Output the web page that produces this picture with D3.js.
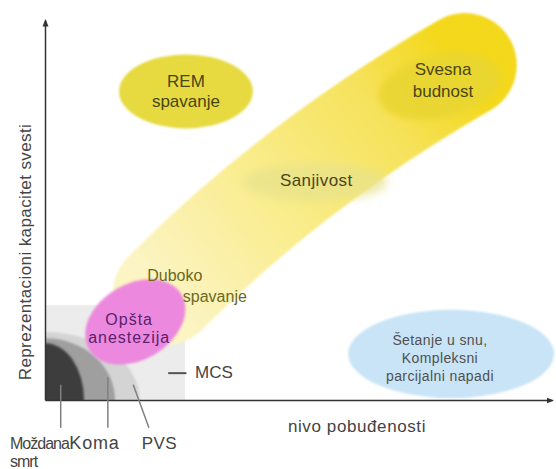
<!DOCTYPE html>
<head>
  <meta charset="utf-8">
  <script src="https://d3js.org/d3.v7.min.js"></script>
  <style>
    body { margin:0; background:#fff; }
    text { font-family: "Liberation Sans", Arial, sans-serif; }
  </style>
</head>
<body>
<script>
  // arousal (x) vs. awareness (y), both in arbitrary units
  // states drawn as ellipses: centre, radii, tilt (deg, counter-clockwise)
  var stateNames = ["REM spavanje", "Svesna budnost", "Sanjivost", "Opšta anestezija", "Šetanje u snu"];
  var stateX     = [27.8, 77.8, 53.3, 17.8, 80.1];
  var stateY     = [60.9, 61.9, 43.0, 15.4, 9.1];
  var stateRx    = [13.2, 12.2, 14.2, 10.6, 20.3];
  var stateRy    = [7.3, 6.2, 3.7, 7.5, 8.7];
  var stateTilt  = [0, 12, 0, 31, 0];

  // states near the origin (quarter shapes from the axes corner)
  var floorNames = ["MCS", "PVS", "Koma", "Moždana smrt"];
  var floorRx    = [27.6, 18.7, 13.8, 7.7];
  var floorRy    = [18.7, 13.4, 12.2, 11.2];

  // the sleep -> wake continuum: a curved band (tail, bend, head) and its width
  var wakeX = [23.7, 49.2, 82.8];
  var wakeY = [21.1, 46.7, 66.1];
  var wakeWidth = 20.5;

  // labels: lines, block centre (x, y)
  var labelLines = [["REM", "spavanje"], ["Svesna", "budnost"], ["Sanjivost"], ["Opšta", "anestezija"],
                    ["Duboko"], ["spavanje"], ["Šetanje u snu,", "Kompleksni", "parcijalni napadi"], ["MCS"]];
  var labelX = [27.8, 78.5, 53.5, 16.6, 25.6, 33.5, 77.9, 29.6];
  var labelY = [61.0, 63.2, 43.4, 14.2, 24.5, 20.5, 8.3, 5.5];

  // pointers below the x axis
  var pointerNames = ["Moždana smrt", "Koma", "PVS", "MCS"];
  var pointerFrom = [[3.1, 3.0], [12.4, 4.5], [17.4, 3.0], [24.3, 5.3]];
  var pointerTo   = [[3.1, -5.5], [12.4, -5.5], [20.5, -5.5], [27.9, 5.3]];
  var bottomLines = [["Moždana", "smrt"], ["Koma"], ["PVS"]];
  var bottomX = [-6.9, 4.8, 19.1];
  var bottomY = -9.7;

  var xLabel = "nivo pobuđenosti";
  var yLabel = "Reprezentacioni kapacitet svesti";

  var width = 556, height = 469;
  var x = d3.scaleLinear().domain([0, 100]).range([45, 552]);
  var y = d3.scaleLinear().domain([0, 75]).range([400, 20]);
  var kx = function(r){ return x(r) - x(0); };
  var ky = function(r){ return y(0) - y(r); };

  var svg = d3.select("body").append("svg")
    .attr("width", width)
    .attr("height", height);

  var defs = svg.append("defs");
  defs.append("clipPath").attr("id", "plot").append("rect")
    .attr("x", x(0)).attr("y", y(75))
    .attr("width", x(100) - x(0)).attr("height", y(0) - y(75));

  // blur filters, region = whole picture so round caps are not clipped
  function blurFilter(id, sd) {
    defs.append("filter").attr("id", id)
      .attr("filterUnits", "userSpaceOnUse")
      .attr("x", 0).attr("y", 0).attr("width", width).attr("height", height)
      .append("feGaussianBlur").attr("stdDeviation", sd);
  }
  blurFilter("soft", 1.2);
  blurFilter("blur3", 3);
  blurFilter("haze", 5);

  var grad = defs.append("linearGradient").attr("id", "wake")
    .attr("gradientUnits", "userSpaceOnUse")
    .attr("x1", x(wakeX[0])).attr("y1", y(wakeY[0]))
    .attr("x2", x(wakeX[2])).attr("y2", y(wakeY[2]));
  var gradStops = [[0, "#fcf4c2"], [0.4, "#f9ec8a"], [0.75, "#f6e25a"], [1, "#f3d81a"]];
  gradStops.forEach(function(s){
    grad.append("stop").attr("offset", s[0]).attr("stop-color", s[1]);
  });

  defs.append("marker").attr("id", "arrow")
    .attr("viewBox", "0 0 10 10").attr("refX", 8).attr("refY", 5)
    .attr("markerWidth", 5).attr("markerHeight", 5).attr("orient", "auto")
    .append("path").attr("d", "M0,1L10,5L0,9Z").attr("fill", "#333");

  // ---- floor states (grey) ----
  var floorColors = ["#ececec", "#d4d4d4", "#9f9f9f", "#3e3e3e"];
  var floor = svg.append("g").attr("clip-path", "url(#plot)");
  floor.append("rect")
    .attr("x", x(-10)).attr("y", y(floorRy[0]))
    .attr("width", x(floorRx[0]) - x(-10)).attr("height", y(-10) - y(floorRy[0]))
    .attr("rx", 22)
    .attr("fill", floorColors[0]);
  floor.selectAll("ellipse").data([1, 2, 3]).enter().append("ellipse")
    .attr("cx", x(0)).attr("cy", y(0))
    .attr("rx", function(i){ return kx(floorRx[i]); })
    .attr("ry", function(i){ return ky(floorRy[i]); })
    .attr("fill", function(i){ return floorColors[i]; })
    .attr("filter", "url(#soft)");

  // ---- wake continuum ----
  var band = d3.path();
  band.moveTo(x(wakeX[0]), y(wakeY[0]));
  band.quadraticCurveTo(x(wakeX[1]), y(wakeY[1]), x(wakeX[2]), y(wakeY[2]));
  svg.append("path")
    .attr("d", band.toString())
    .attr("fill", "none")
    .attr("stroke", "url(#wake)")
    .attr("stroke-width", kx(wakeWidth))
    .attr("stroke-linecap", "round")
    .attr("filter", "url(#soft)");

  // ---- states ----
  var stateColors = ["#e6da40", "#e9d633", "#e8e28c", "#ec88dd", "#c8e4f6"];
  var stateFilter = ["url(#soft)", "url(#blur3)", "url(#haze)", "url(#soft)", "url(#soft)"];
  var stateOpacity = [1, 0.9, 0.75, 1, 1];
  svg.append("g").selectAll("ellipse").data(stateNames).enter().append("ellipse")
    .attr("cx", function(d, i){ return x(stateX[i]); })
    .attr("cy", function(d, i){ return y(stateY[i]); })
    .attr("rx", function(d, i){ return kx(stateRx[i]); })
    .attr("ry", function(d, i){ return ky(stateRy[i]); })
    .attr("transform", function(d, i){ return "rotate(" + (-stateTilt[i]) + "," + x(stateX[i]) + "," + y(stateY[i]) + ")"; })
    .attr("fill", function(d, i){ return stateColors[i]; })
    .attr("opacity", function(d, i){ return stateOpacity[i]; })
    .attr("filter", function(d, i){ return stateFilter[i]; });

  // ---- axes ----
  var xAxis = svg.append("g").attr("transform", "translate(0," + y(0) + ")")
    .call(d3.axisBottom(x).ticks(0).tickSizeOuter(0));
  var yAxis = svg.append("g").attr("transform", "translate(" + x(0) + ",0)")
    .call(d3.axisLeft(y).ticks(0).tickSizeOuter(0));
  [xAxis, yAxis].forEach(function(a){
    a.select(".domain").attr("stroke", "#333").attr("stroke-width", 1.5).attr("marker-end", "url(#arrow)");
  });

  // ---- pointers ----
  svg.append("g").selectAll("line").data(pointerNames).enter().append("line")
    .attr("x1", function(d, i){ return x(pointerFrom[i][0]); })
    .attr("y1", function(d, i){ return y(pointerFrom[i][1]); })
    .attr("x2", function(d, i){ return x(pointerTo[i][0]); })
    .attr("y2", function(d, i){ return y(pointerTo[i][1]); })
    .attr("stroke", function(d){ return d == "MCS" ? "#555" : "#808080"; })
    .attr("stroke-width", function(d){ return d == "MCS" ? 2 : 1.5; });

  // ---- labels ----
  var labelSize  = [17, 17, 17, 16, 16, 16, 14, 17];
  var labelLh    = [20, 22, 20, 18, 18, 18, 18, 20];
  var labelColor = ["#4a4518", "#4a4518", "#4a4518", "#5a2270", "#6b6a1c", "#6b6a1c", "#505050", "#444"];
  var labelSpace = [0, 0, 0.4, 1, 0, 0, 0.4, 0];
  var labelAnchor = ["middle", "middle", "middle", "middle", "middle", "middle", "middle", "start"];

  var labels = svg.append("g").selectAll("text").data(labelLines).enter().append("text")
    .attr("text-anchor", function(d, i){ return labelAnchor[i]; })
    .attr("font-size", function(d, i){ return labelSize[i]; })
    .attr("letter-spacing", function(d, i){ return labelSpace[i]; })
    .attr("fill", function(d, i){ return labelColor[i]; });
  labels.each(function(lines, i){
    var t = d3.select(this);
    var top = y(labelY[i]) - (lines.length - 1) * labelLh[i] / 2 + 0.35 * labelSize[i];
    lines.forEach(function(l, j){
      t.append("tspan").attr("x", x(labelX[i])).attr("y", top + j * labelLh[i]).text(l);
    });
  });

  // labels below the axis
  var bottomSize = [16, 18, 17];
  var bottomSpace = [-1, 0.8, 0.4];
  bottomLines.forEach(function(lines, i){
    var t = svg.append("text")
      .attr("font-size", bottomSize[i]).attr("letter-spacing", bottomSpace[i])
      .attr("fill", "#444");
    lines.forEach(function(l, j){
      t.append("tspan").attr("x", x(bottomX[i])).attr("y", y(bottomY) + j * 18).text(l);
    });
  });

  svg.append("text")
    .attr("x", 357).attr("y", 432)
    .attr("text-anchor", "middle").attr("font-size", 17).attr("letter-spacing", 0.6)
    .attr("fill", "#444")
    .text(xLabel);

  svg.append("text")
    .attr("transform", "translate(31,252) rotate(-90)")
    .attr("text-anchor", "middle").attr("font-size", 17).attr("letter-spacing", 0.4)
    .attr("fill", "#444")
    .text(yLabel);
</script>
</body>
